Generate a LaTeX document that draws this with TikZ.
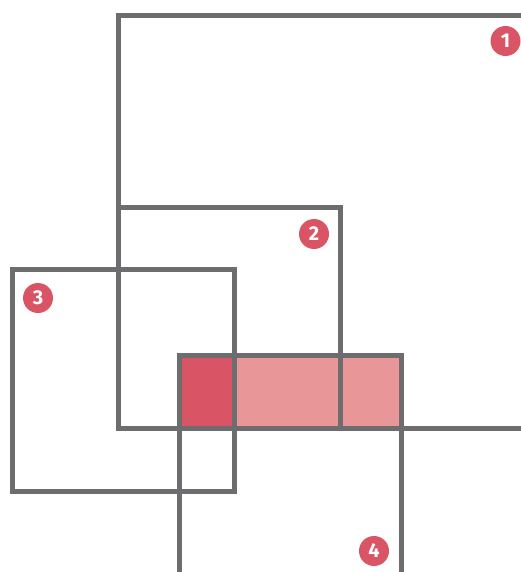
\documentclass[tikz,border=0pt]{standalone}
\usepackage{fontspec}
\setmainfont{Fira Sans}
\definecolor{edgegray}{HTML}{6D6D70}
\definecolor{badgered}{HTML}{D95565}
\definecolor{lightpink}{HTML}{E89698}
\tikzset{
  frame/.style={draw=edgegray, line width=5pt, line join=miter},
  badge/.style={circle, fill=badgered, minimum size=30pt, inner sep=0pt, text=white, font=\bfseries\fontsize{20pt}{20pt}\selectfont}
}
\begin{document}
\begin{tikzpicture}[x=1pt,y=-1pt]
\useasboundingbox (0,0) rectangle (521,572);
\clip (0,0) rectangle (521,572);
% fills
\fill[badgered] (179.5,355.5) rectangle (234.5,428.5);
\fill[lightpink] (234.5,355.5) rectangle (401.5,428.5);
% rectangles
\draw[frame] (118.5,15.5) rectangle (540,428.5);
\draw[frame] (118.5,207.5) rectangle (340.5,428.5);
\draw[frame] (12.5,269.5) rectangle (234.5,491.5);
\draw[frame] (179.5,355.5) rectangle (401.5,590);
% badges
\node[badge] (b1) at (505.5,41) {1};
\node[badge] (b2) at (314,234) {2};
\node[badge] (b3) at (38,298) {3};
\node[badge] (b4) at (374,551) {4};
\end{tikzpicture}
\end{document}
